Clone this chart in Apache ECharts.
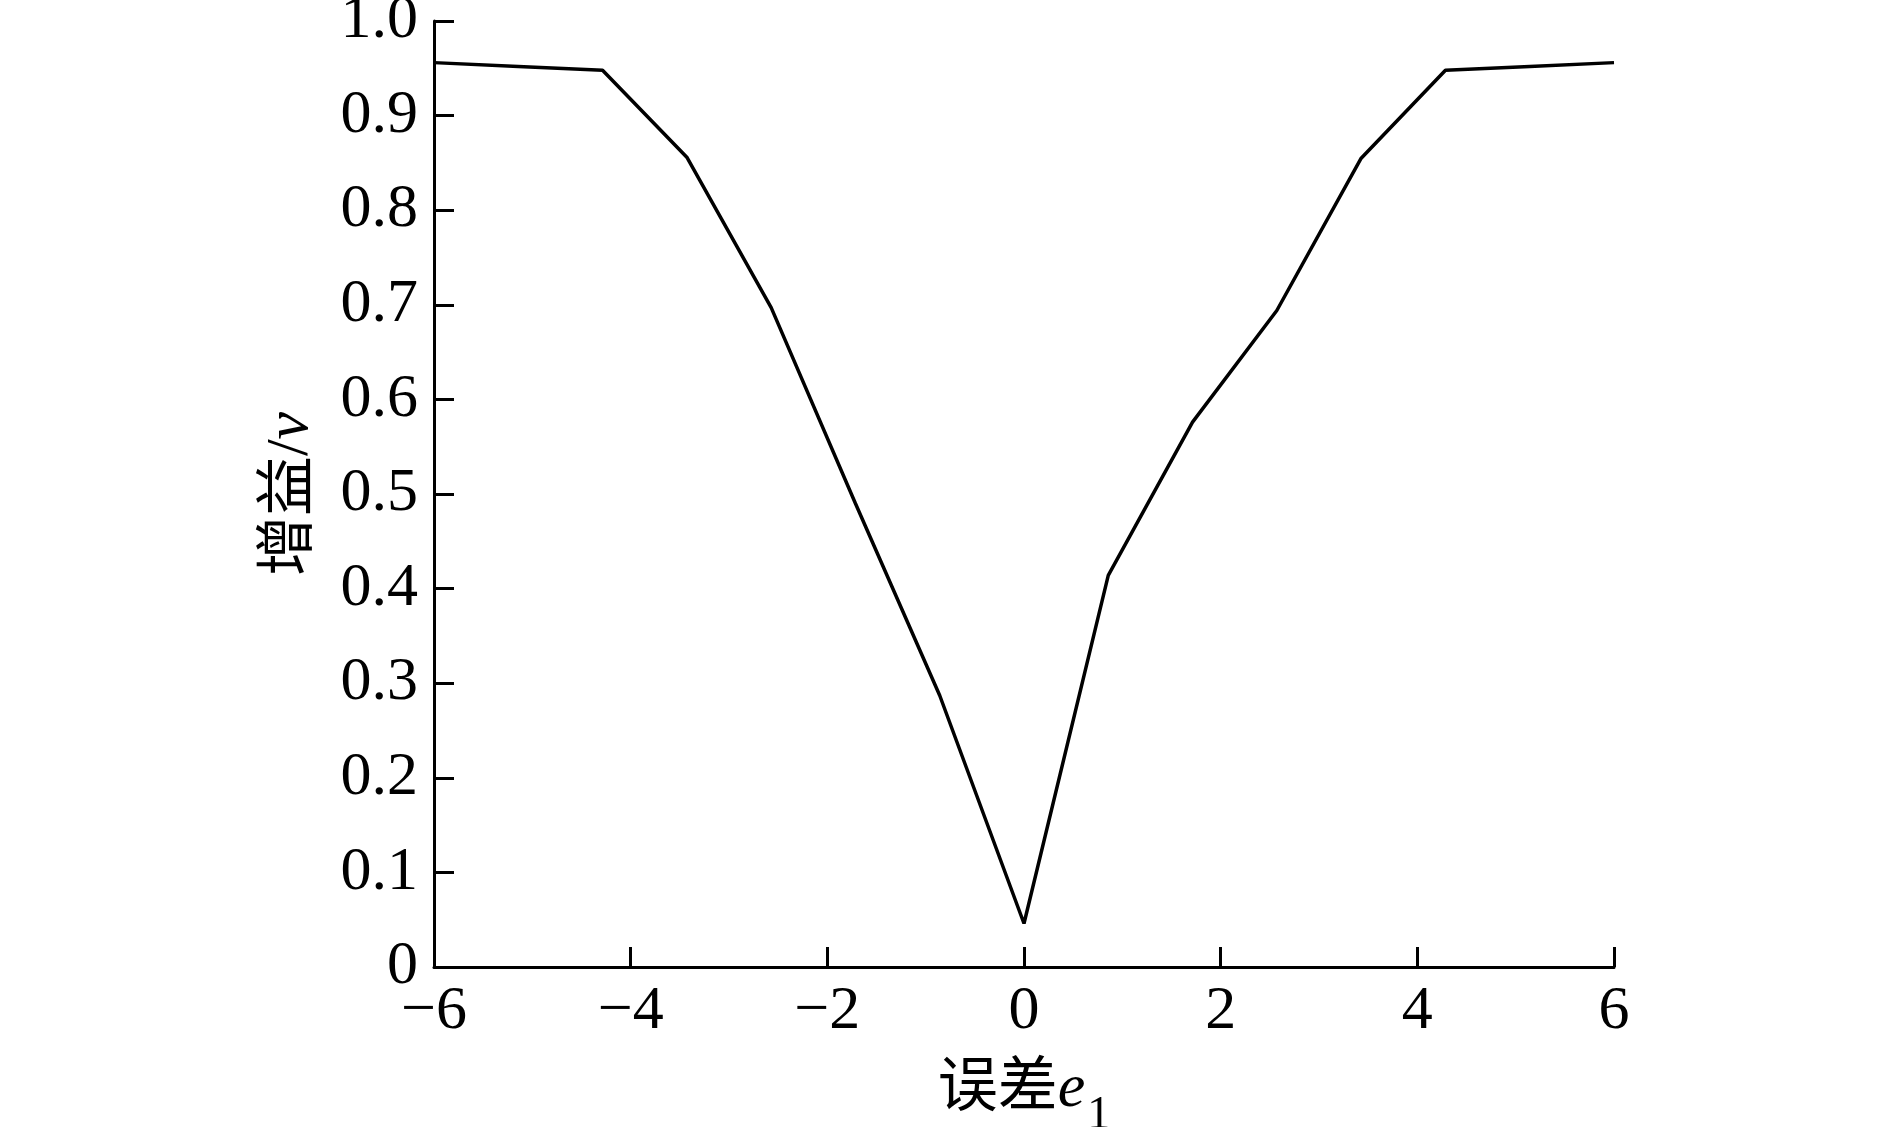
<!DOCTYPE html>
<html>
<head>
<meta charset="utf-8">
<title>增益曲线</title>
<script src="https://cdn.jsdelivr.net/npm/echarts@6/dist/echarts.min.js"></script>
<style>
  html, body { margin: 0; padding: 0; background: #fff; }
  #box { width: 1889px; height: 1127px; }
</style>
</head>
<body>
<div id="box"></div>
<script>
// 误差 e1 取值（步长 6/7）
var errValues = [-6, -5.143, -4.286, -3.429, -2.571, -1.714, -0.857, 0, 0.857, 1.714, 2.571, 3.429, 4.286, 5.143, 6]
// 增益 v
var gainValues = [0.956, 0.952, 0.948, 0.856, 0.697, 0.49, 0.287, 0.046, 0.414, 0.576, 0.694, 0.855, 0.948, 0.952, 0.956]
var xTicks = [-6, -4, -2, 0, 2, 4, 6]
var yTicks = [0, 0.1, 0.2, 0.3, 0.4, 0.5, 0.6, 0.7, 0.8, 0.9, 1.0]

var serif = "'Liberation Serif', 'Noto Sans CJK SC', serif"
var points = errValues.map(function (x, i) { return [x, gainValues[i]] })

var myEcharts = echarts.init(document.getElementById('box'))
var options = {
  backgroundColor: '#fff',
  animation: false,
  grid: {
    left: 434,
    right: 275,
    top: 21,
    bottom: 160,
    containLabel: false,
    outerBoundsMode: 'none'
  },
  xAxis: {
    type: 'value',
    min: xTicks[0],
    max: xTicks[xTicks.length - 1],
    interval: 2,
    name: '误差{i|e}{s|1}',
    nameLocation: 'middle',
    nameGap: 92,
    nameTextStyle: {
      fontFamily: serif,
      fontSize: 60,
      color: '#000',
      rich: {
        i: { fontFamily: serif, fontSize: 62, fontStyle: 'italic', color: '#000' },
        s: { fontFamily: serif, fontSize: 46, color: '#000', verticalAlign: 'bottom', padding: [0, 0, -18, 2] }
      }
    },
    axisLine: { onZero: false, lineStyle: { color: '#000', width: 3 } },
    axisTick: { inside: true, length: 20, lineStyle: { color: '#000', width: 3 } },
    axisLabel: {
      margin: 14,
      fontFamily: serif,
      fontSize: 62,
      color: '#000',
      formatter: function (v) { return v < 0 ? '\u2212' + Math.abs(v) : String(v) }
    },
    splitLine: { show: false }
  },
  yAxis: {
    type: 'value',
    min: yTicks[0],
    max: yTicks[yTicks.length - 1],
    interval: 0.1,
    name: '增益/{i|v}',
    nameLocation: 'middle',
    nameRotate: 90,
    nameGap: 112,
    nameTextStyle: {
      fontFamily: serif,
      fontSize: 60,
      color: '#000',
      rich: {
        i: { fontFamily: serif, fontSize: 62, fontStyle: 'italic', color: '#000' }
      }
    },
    axisLine: { show: true, onZero: false, lineStyle: { color: '#000', width: 3 } },
    axisTick: { show: true, inside: true, length: 20, lineStyle: { color: '#000', width: 3 } },
    axisLabel: {
      margin: 16,
      fontFamily: serif,
      fontSize: 62,
      color: '#000',
      formatter: function (v) { return v === 0 ? '0' : v.toFixed(1) }
    },
    splitLine: { show: false }
  },
  series: [
    {
      type: 'line',
      data: points,
      showSymbol: false,
      lineStyle: { color: '#000', width: 3.5 }
    }
  ]
}
myEcharts.setOption(options)
</script>
</body>
</html>
